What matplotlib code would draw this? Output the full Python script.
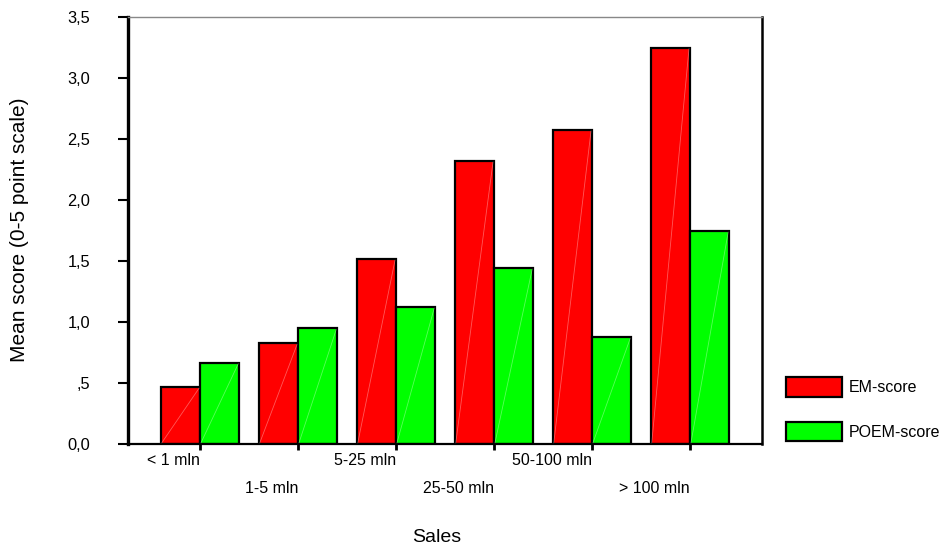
import matplotlib
matplotlib.use("Agg")
import matplotlib.pyplot as plt
import numpy as np

categories = ["< 1 mln", "1-5 mln", "5-25 mln", "25-50 mln", "50-100 mln", "> 100 mln"]
em_score = [0.467, 0.825, 1.516, 2.32, 2.574, 3.25]
poem_score = [0.667, 0.948, 1.123, 1.443, 0.875, 1.746]
y_ticks = [0.0, 0.5, 1.0, 1.5, 2.0, 2.5, 3.0, 3.5]
y_tick_labels = ["0,0", ",5", "1,0", "1,5", "2,0", "2,5", "3,0", "3,5"]

plt.rcParams['font.family'] = ['Liberation Sans', 'DejaVu Sans']

W, H = 945, 548
fig = plt.figure(figsize=(W / 100, H / 100), dpi=100)
ax = fig.add_axes([128 / W, 1 - 444 / H, (762 - 128) / W, (444 - 17) / H])

x = np.arange(len(categories))
bw = 0.4
red = "#ff0000"
green = "#00ff00"
b1 = ax.bar(x - bw / 2, em_score, bw, color=red, edgecolor="black", linewidth=1.6, label="EM-score", zorder=2)
b2 = ax.bar(x + bw / 2, poem_score, bw, color=green, edgecolor="black", linewidth=1.6, label="POEM-score", zorder=2)

# faint diagonal sheen inside each bar
for bars in (b1, b2):
    for r in bars:
        x0 = r.get_x() + 0.01
        x1 = r.get_x() + r.get_width() - 0.01
        ax.plot([x0, x1], [0.01, r.get_height() - 0.01], color="white", alpha=0.35, lw=0.6, zorder=3)

ax.set_xlim(-0.735, len(categories) - 1 + 0.735)
ax.set_ylim(0, 3.5)

ax.set_yticks(y_ticks)
ax.set_yticklabels(y_tick_labels, fontsize=11.8)
ax.tick_params(axis="y", direction="out", length=7, width=1.5, pad=20, color="black")

ax.set_xticks(x)
ax.set_xticklabels([])
ax.tick_params(axis="x", direction="out", length=4, width=2, color="black")

for i, lab in enumerate(categories):
    off = 12.2 if i % 2 == 0 else 31.7
    ax.annotate(lab, xy=(i, 0), xycoords=("data", "axes fraction"),
                xytext=(0, -off), textcoords="offset points",
                ha="right", va="center", fontsize=11.5)

ax.spines["left"].set_linewidth(2.4)
ax.spines["bottom"].set_linewidth(1.6)
ax.spines["right"].set_linewidth(1.8)
ax.spines["top"].set_linewidth(1.0)
ax.spines["top"].set_color("#888888")

fig.text(20 / W, 1 - 230 / H, "Mean score (0-5 point scale)", rotation=90,
         ha="center", va="center", fontsize=15)
fig.text(437 / W, 1 - 537 / H, "Sales", ha="center", va="center", fontsize=14)

leg = fig.legend(handles=[b1, b2], labels=["EM-score", "POEM-score"],
                 loc="upper left", bbox_to_anchor=(780 / W, 1 - 371 / H),
                 frameon=False, fontsize=11.5, handlelength=3.5, handleheight=1.5,
                 labelspacing=1.55, handletextpad=0.4, borderaxespad=0)

fig.savefig("out.png", dpi=100)
